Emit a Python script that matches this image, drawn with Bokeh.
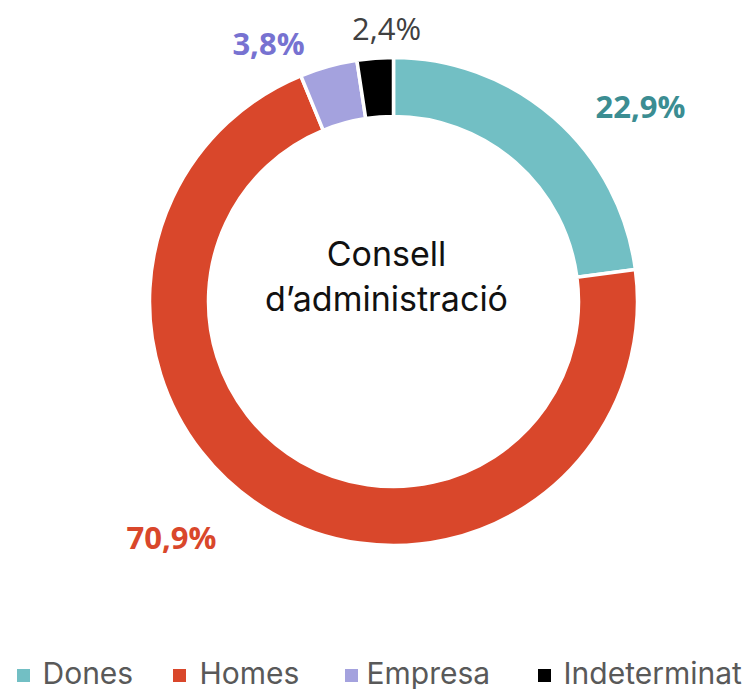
import math
from bokeh.plotting import figure
from bokeh.models import Range1d, ColumnDataSource
from bokeh.core.properties import value
from bokeh.embed import file_html
from bokeh.resources import INLINE

# ---- data ----
categories = ["Dones", "Homes", "Empresa", "Indeterminat"]
shares = [22.9, 70.9, 3.8, 2.4]
labels = ["22,9%", "70,9%", "3,8%", "2,4%"]
colors = ["#72bfc4", "#d9472b", "#a4a2de", "#000000"]
label_colors = ["#3b8d92", "#d9472b", "#7772d1", "#404040"]
label_styles = ["bold", "bold", "bold", "normal"]
center_title = ["Consell", "d\u2019administraci\u00f3"]

# ---- layout (image pixel coords) ----
W, H = 748, 689
def Y(y):
    return H - y

cx, cy = 393, 301
r_out, r_in = 244, 185
label_pos = [(640, 105), (171, 536), (268, 42), (386, 27)]
legend_sq_x = [23, 179, 351, 544]
legend_tx_x = [42, 199, 366, 563]
legend_y = 675
legend_mid = 672

p = figure(width=W, height=H, output_backend="svg", toolbar_location=None,
           x_range=Range1d(0, W), y_range=Range1d(0, H),
           min_border=0, outline_line_color=None)
p.axis.visible = False
p.grid.visible = False
p.background_fill_color = "white"

# wedges
total = sum(shares)
starts, ends = [], []
cum = 0.0
for s in shares:
    a0 = math.pi / 2 - cum / total * 2 * math.pi
    a1 = a0 - s / total * 2 * math.pi
    starts.append(a0)
    ends.append(a1)
    cum += s

src = ColumnDataSource(dict(x=[cx] * 4, y=[Y(cy)] * 4, start=starts, end=ends,
                            color=colors, cat=categories))
p.annular_wedge(x="x", y="y", inner_radius=r_in, outer_radius=r_out,
                start_angle="start", end_angle="end", direction="clock",
                fill_color="color", line_color="white", line_width=3.5, source=src)

# value labels
lsrc = ColumnDataSource(dict(x=[q[0] for q in label_pos], y=[Y(q[1]) for q in label_pos],
                             text=labels, color=label_colors, style=label_styles))
p.text(x="x", y="y", text="text", text_color="color", text_font_style="style",
       text_font=value("Open Sans"), text_font_size="31px",
       text_align="center", text_baseline="middle", source=lsrc)

# center title
p.text(x=[386, 386], y=[Y(253), Y(298)], text=center_title, text_color="#111111",
       text_font=value("Inter"), text_font_size="34px",
       text_align="center", text_baseline="middle")

# legend
p.rect(x=legend_sq_x, y=[Y(legend_y)] * 4, width=13, height=13, fill_color=colors,
       line_color=None)
p.text(x=legend_tx_x, y=[Y(legend_mid)] * 4, text=categories, text_color="#595959",
       text_font=value("Inter"), text_font_size="30px",
       text_align="left", text_baseline="middle")

open("out.html", "w").write(file_html(p, INLINE))
